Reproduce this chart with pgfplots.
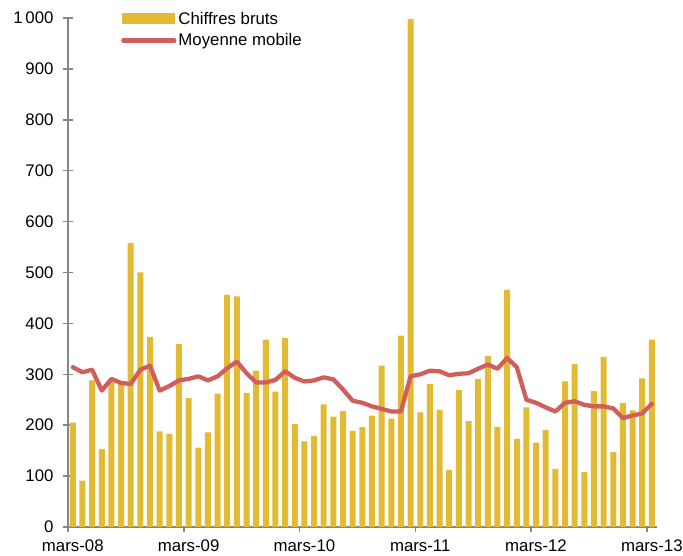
\documentclass[border=0pt]{standalone}
\usepackage{pgfplots}
\pgfplotsset{compat=1.18}
\usepackage{pgfplotstable}
\usepackage{fontspec}
\setmainfont{Liberation Sans}
\definecolor{barcol}{RGB}{226,186,52}
\definecolor{macol}{RGB}{208,95,92}
\definecolor{axcol}{RGB}{134,134,134}
\pgfplotstableread{
i bruts moy
0 205 314
1 91 304
2 288 309
3 153 268
4 285 291
5 281 283
6 558 281
7 500 309
8 373 317
9 188 268
10 183 277
11 360 288
12 253 291
13 156 296
14 186 288
15 262 296
16 456 312
17 453 325
18 263 302
19 307 284
20 368 284
21 266 289
22 371 306
23 202 293
24 168 286
25 179 288
26 241 294
27 217 290
28 228 270
29 189 248
30 196 244
31 219 237
32 317 232
33 213 227
34 376 227
35 998 296
36 225 300
37 281 307
38 230 306
39 112 298
40 269 301
41 208 302
42 291 311
43 336 319
44 196 311
45 466 332
46 173 314
47 235 250
48 166 244
49 191 235
50 114 227
51 286 244
52 320 247
53 108 240
54 267 237
55 334 237
56 147 233
57 244 214
58 229 219
59 292 223
60 368 242
}\data
\begin{document}
\begin{tikzpicture}
\begin{axis}[
  scale only axis,
  width=588.7pt, height=509pt,
  xmin=-0.5, xmax=60.5,
  ymin=0, ymax=1000,
  axis lines=left,
  axis line style={-, draw=axcol, line width=1.5pt},
  xtick={-0.5,11.5,23.5,35.5,47.5,59.5},
  xticklabels={mars-08,mars-09,mars-10,mars-11,mars-12,mars-13},
  x tick label style={xshift=4.8pt, yshift=-4pt},
  y tick label style={xshift=-6pt},
  major tick length=10pt,
  tick align=center,
  x tick style={draw=axcol, line width=1.5pt, dash pattern=on 5pt off 10pt},
  ytick={0,100,...,1000},
  y tick style={draw=axcol, line width=1.5pt},
  tick label style={font=\fontsize{16.8pt}{20pt}\selectfont, text=black},
  /pgf/number format/.cd, 1000 sep={\,}, assume math mode=true,
  /pgfplots/.cd,
  legend style={at={(axis description cs:0.09,1.016)}, anchor=north west, draw=none, fill=none,
    font=\fontsize{16.8pt}{20pt}\selectfont, row sep=4pt, inner sep=0pt},
  legend cell align=left,
  clip=false,
]
\addplot[ybar, bar width=6pt, bar shift=0pt, fill=barcol, draw=none,
  legend image code/.code={\fill[barcol] (0pt,-5.5pt) rectangle (53pt,5.5pt);}]
  table[x=i, y=bruts] {\data};
\addlegendentry{Chiffres bruts}
\addplot[macol, line width=4.3pt, line join=round, line cap=round, mark=none,
  legend image code/.code={\draw[macol, line width=4.3pt, line cap=round] (1pt,0pt) -- (52pt,0pt);}]
  table[x=i, y=moy] {\data};
\addlegendentry{Moyenne mobile}
\end{axis}
\pgfresetboundingbox
\path (-68pt,-29pt) rectangle (615pt,527pt);
\end{tikzpicture}
\end{document}
